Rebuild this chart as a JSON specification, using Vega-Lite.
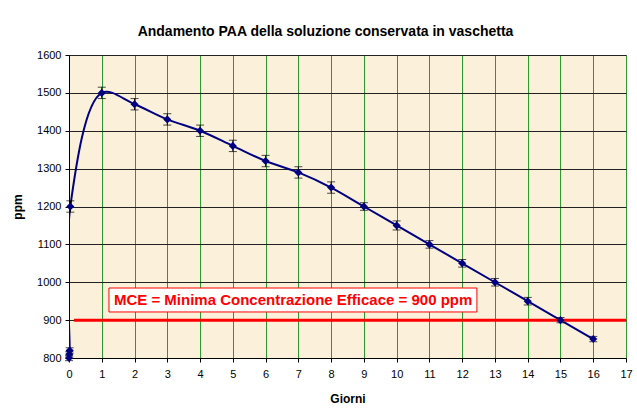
{
  "$schema": "https://vega.github.io/schema/vega-lite/v6.json",
  "autosize": "none",
  "width": 557,
  "height": 303,
  "padding": {"left": 69, "top": 55, "right": 11, "bottom": 52},
  "background": "white",
  "title": {
    "text": "Andamento PAA della soluzione conservata in vaschetta",
    "font": "Liberation Sans",
    "fontSize": 14,
    "fontWeight": "bold",
    "color": "black",
    "anchor": "middle",
    "dx": -22,
    "offset": 10
  },
  "config": {
    "view": {"fill": "#FBF0DA", "stroke": "#808080", "strokeWidth": 1},
    "axis": {
      "labelFont": "Liberation Sans",
      "labelFontSize": 11,
      "labelColor": "black",
      "labelOverlap": false,
      "labelFlush": false,
      "format": "d",
      "titleFont": "Liberation Sans",
      "titleFontSize": 12,
      "titleFontWeight": "bold",
      "titleColor": "black",
      "domainColor": "black",
      "tickColor": "black",
      "tickSize": 4,
      "gridOpacity": 1,
      "gridWidth": 1
    },
    "axisX": {"gridColor": "#2E9A2E", "labelPadding": 6, "titlePadding": 14},
    "axisY": {"gridColor": "#222222", "labelPadding": 4, "titleX": -45, "titleY": 151.5}
  },
  "datasets": {
    "series": [
      {"giorni": 0, "ppm": 800},
      {"giorni": 0.01, "ppm": 810},
      {"giorni": 0.02, "ppm": 820},
      {"giorni": 0.04, "ppm": 1200},
      {"giorni": 1, "ppm": 1500},
      {"giorni": 2, "ppm": 1470},
      {"giorni": 3, "ppm": 1430},
      {"giorni": 4, "ppm": 1400},
      {"giorni": 5, "ppm": 1360},
      {"giorni": 6, "ppm": 1320},
      {"giorni": 7, "ppm": 1290},
      {"giorni": 8, "ppm": 1250},
      {"giorni": 9, "ppm": 1200},
      {"giorni": 10, "ppm": 1150},
      {"giorni": 11, "ppm": 1100},
      {"giorni": 12, "ppm": 1050},
      {"giorni": 13, "ppm": 1000},
      {"giorni": 14, "ppm": 950},
      {"giorni": 15, "ppm": 900},
      {"giorni": 16, "ppm": 850}
    ],
    "errors": [
      {"giorni": 0, "lo": 793, "hi": 807},
      {"giorni": 0.01, "lo": 803, "hi": 817},
      {"giorni": 0.02, "lo": 813, "hi": 827},
      {"giorni": 0.04, "lo": 1185, "hi": 1215},
      {"giorni": 1, "lo": 1485, "hi": 1515},
      {"giorni": 2, "lo": 1455, "hi": 1485},
      {"giorni": 3, "lo": 1415, "hi": 1445},
      {"giorni": 4, "lo": 1385, "hi": 1415},
      {"giorni": 5, "lo": 1345, "hi": 1375},
      {"giorni": 6, "lo": 1305, "hi": 1335},
      {"giorni": 7, "lo": 1275, "hi": 1305},
      {"giorni": 8, "lo": 1235, "hi": 1265},
      {"giorni": 9, "lo": 1190, "hi": 1210},
      {"giorni": 10, "lo": 1138, "hi": 1162},
      {"giorni": 11, "lo": 1090, "hi": 1110},
      {"giorni": 12, "lo": 1040, "hi": 1060},
      {"giorni": 13, "lo": 990, "hi": 1010},
      {"giorni": 14, "lo": 940, "hi": 960},
      {"giorni": 15, "lo": 893, "hi": 907},
      {"giorni": 16, "lo": 843, "hi": 857}
    ],
    "mce": [{"x0": 0.15, "x1": 17, "ppm": 900}],
    "label": [{"x0": 1.22, "x1": 12.45, "y0": 921.5, "y1": 984.8, "xc": 6.84, "yc": 953, "text": "MCE = Minima Concentrazione Efficace = 900 ppm"}]
  },
  "layer": [
    {
      "data": {"name": "series"},
      "mark": {"type": "line", "color": "#000080", "strokeWidth": 2, "interpolate": "catmull-rom", "clip": true},
      "encoding": {
        "x": {
          "field": "giorni", "type": "quantitative",
          "scale": {"domain": [0, 17], "nice": false},
          "axis": {"title": "Giorni", "values": [0,1,2,3,4,5,6,7,8,9,10,11,12,13,14,15,16,17], "grid": true}
        },
        "y": {
          "field": "ppm", "type": "quantitative",
          "scale": {"domain": [800, 1600], "nice": false, "zero": false},
          "axis": {"title": "ppm", "values": [800,900,1000,1100,1200,1300,1400,1500,1600], "grid": true}
        }
      }
    },
    {
      "data": {"name": "mce"},
      "mark": {"type": "rule", "color": "#FF0000", "strokeWidth": 3},
      "encoding": {
        "x": {"field": "x0", "type": "quantitative", "axis": {"title": "Giorni", "values": [0,1,2,3,4,5,6,7,8,9,10,11,12,13,14,15,16,17], "grid": true}},
        "x2": {"field": "x1"},
        "y": {"field": "ppm", "type": "quantitative", "axis": {"title": "ppm", "values": [800,900,1000,1100,1200,1300,1400,1500,1600], "grid": true}}
      }
    },
    {
      "data": {"name": "errors"},
      "mark": {"type": "rule", "color": "black", "strokeWidth": 1},
      "encoding": {
        "x": {"field": "giorni", "type": "quantitative", "axis": {"title": "Giorni", "values": [0,1,2,3,4,5,6,7,8,9,10,11,12,13,14,15,16,17], "grid": true}},
        "y": {"field": "lo", "type": "quantitative", "axis": {"title": "ppm", "values": [800,900,1000,1100,1200,1300,1400,1500,1600], "grid": true}},
        "y2": {"field": "hi"}
      }
    },
    {
      "data": {"name": "errors"},
      "mark": {"type": "tick", "orient": "horizontal", "color": "black", "size": 8, "thickness": 1},
      "encoding": {
        "x": {"field": "giorni", "type": "quantitative", "axis": {"title": "Giorni", "values": [0,1,2,3,4,5,6,7,8,9,10,11,12,13,14,15,16,17], "grid": true}},
        "y": {"field": "lo", "type": "quantitative", "axis": {"title": "ppm", "values": [800,900,1000,1100,1200,1300,1400,1500,1600], "grid": true}}
      }
    },
    {
      "data": {"name": "errors"},
      "mark": {"type": "tick", "orient": "horizontal", "color": "black", "size": 8, "thickness": 1},
      "encoding": {
        "x": {"field": "giorni", "type": "quantitative", "axis": {"title": "Giorni", "values": [0,1,2,3,4,5,6,7,8,9,10,11,12,13,14,15,16,17], "grid": true}},
        "y": {"field": "hi", "type": "quantitative", "axis": {"title": "ppm", "values": [800,900,1000,1100,1200,1300,1400,1500,1600], "grid": true}}
      }
    },
    {
      "data": {"name": "series"},
      "mark": {"type": "point", "shape": "diamond", "filled": true, "color": "#000080", "size": 65, "opacity": 1},
      "encoding": {
        "x": {"field": "giorni", "type": "quantitative", "axis": {"title": "Giorni", "values": [0,1,2,3,4,5,6,7,8,9,10,11,12,13,14,15,16,17], "grid": true}},
        "y": {"field": "ppm", "type": "quantitative", "axis": {"title": "ppm", "values": [800,900,1000,1100,1200,1300,1400,1500,1600], "grid": true}}
      }
    },
    {
      "data": {"name": "label"},
      "mark": {"type": "rect", "fill": "white", "stroke": "#FF0000", "strokeWidth": 1},
      "encoding": {
        "x": {"field": "x0", "type": "quantitative", "axis": {"title": "Giorni", "values": [0,1,2,3,4,5,6,7,8,9,10,11,12,13,14,15,16,17], "grid": true}},
        "x2": {"field": "x1"},
        "y": {"field": "y0", "type": "quantitative", "axis": {"title": "ppm", "values": [800,900,1000,1100,1200,1300,1400,1500,1600], "grid": true}},
        "y2": {"field": "y1"}
      }
    },
    {
      "data": {"name": "label"},
      "mark": {"type": "text", "color": "#FF0000", "font": "Liberation Sans", "fontSize": 15, "fontWeight": "bold", "align": "center", "baseline": "middle"},
      "encoding": {
        "x": {"field": "xc", "type": "quantitative", "axis": {"title": "Giorni", "values": [0,1,2,3,4,5,6,7,8,9,10,11,12,13,14,15,16,17], "grid": true}},
        "y": {"field": "yc", "type": "quantitative", "axis": {"title": "ppm", "values": [800,900,1000,1100,1200,1300,1400,1500,1600], "grid": true}},
        "text": {"field": "text"}
      }
    }
  ]
}
